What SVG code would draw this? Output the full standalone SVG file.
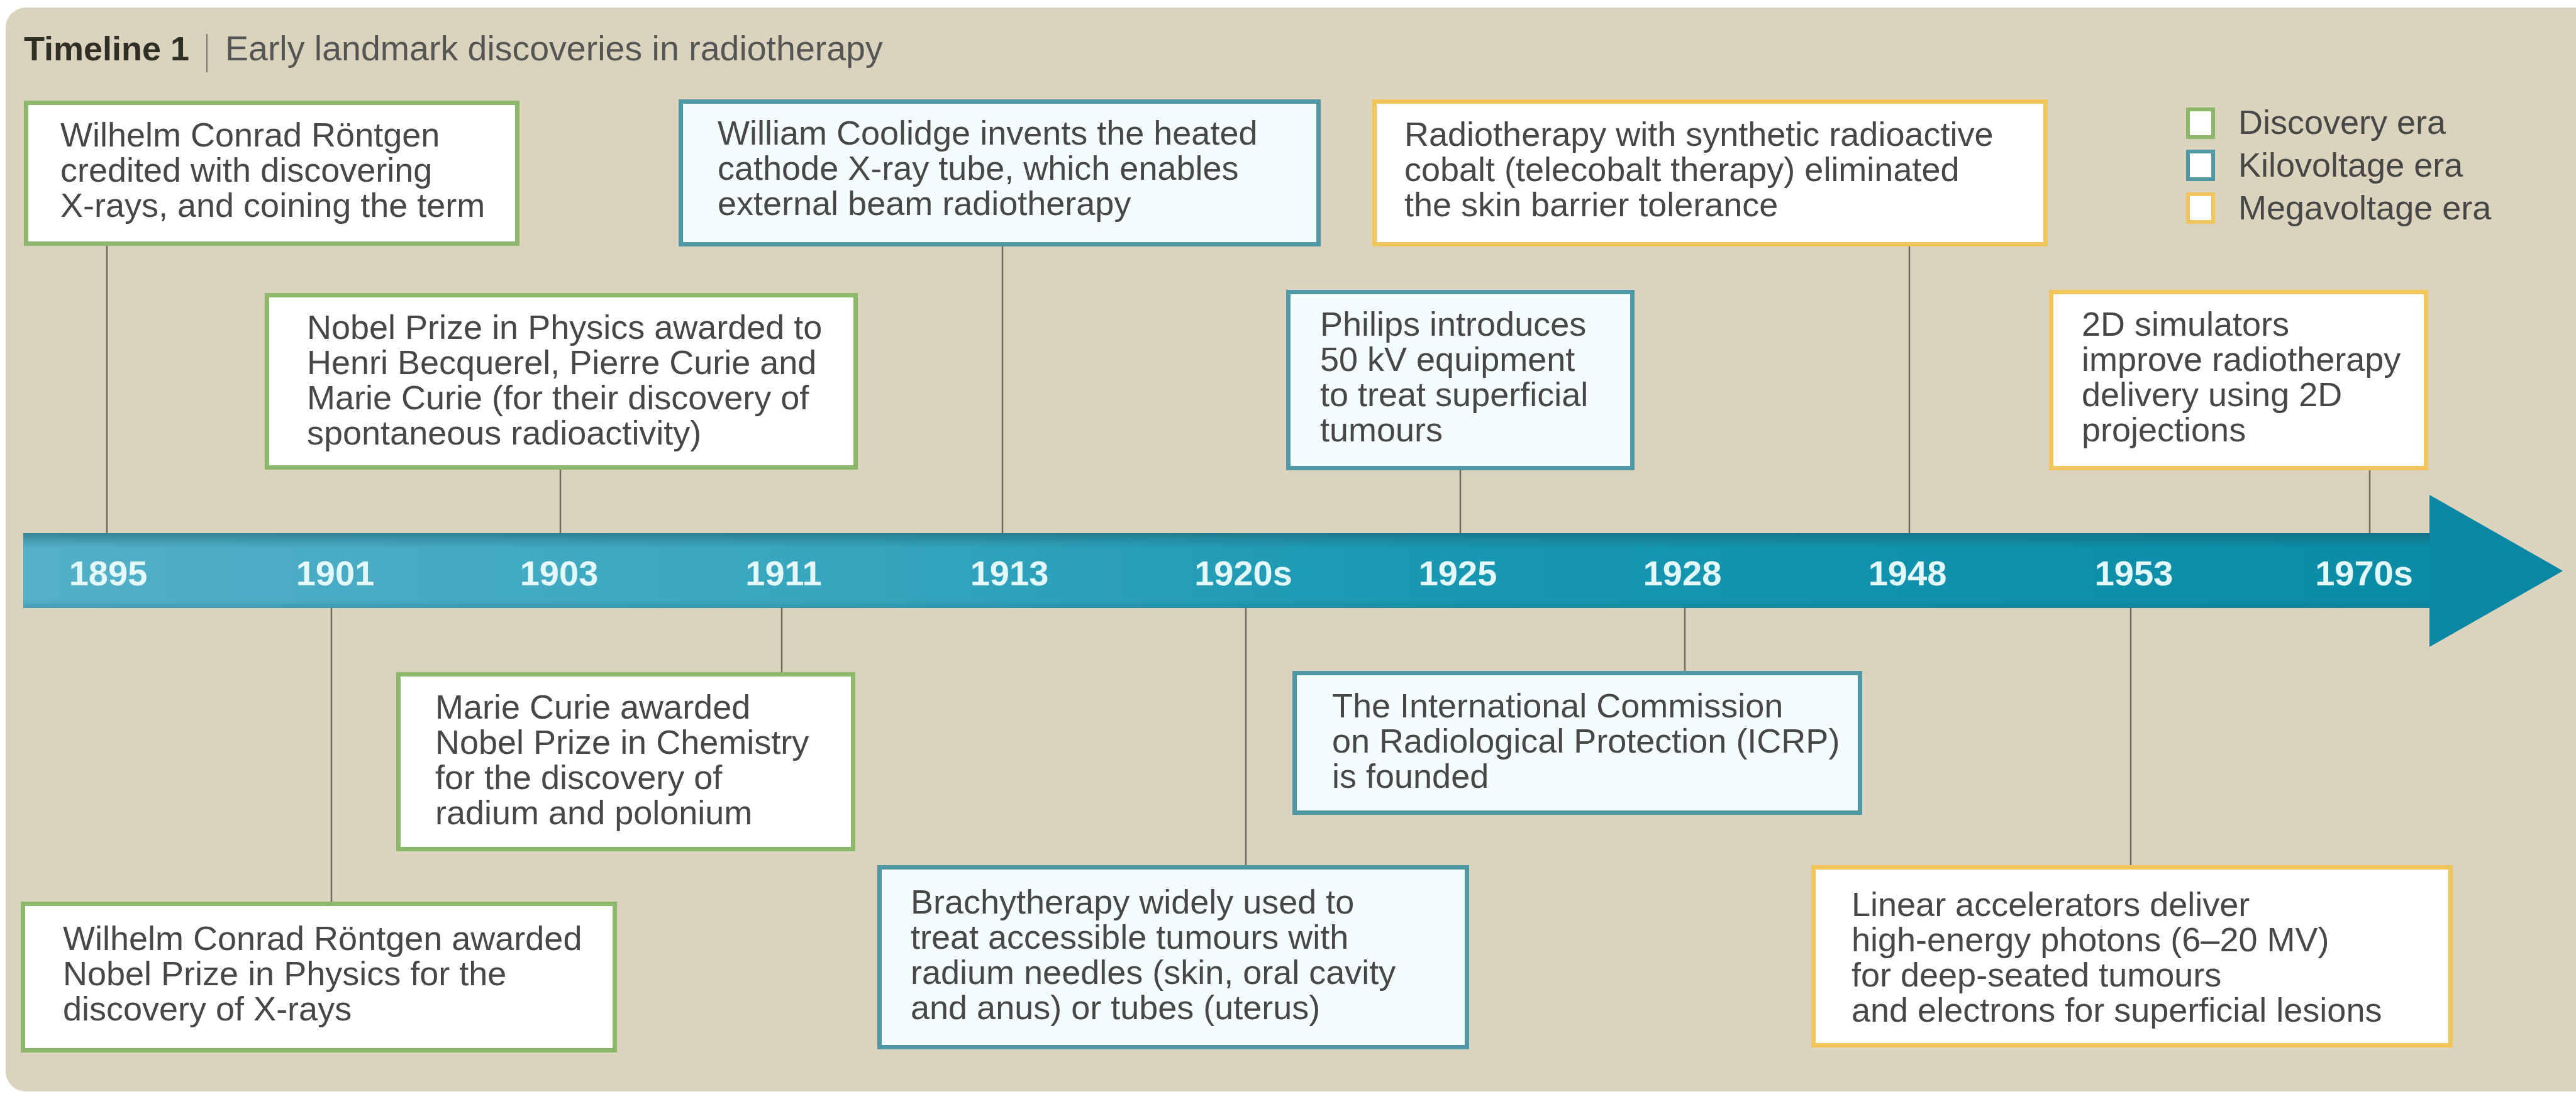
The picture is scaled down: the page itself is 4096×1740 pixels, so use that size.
<svg xmlns="http://www.w3.org/2000/svg" width="4096" height="1740" viewBox="0 0 4096 1740">
<defs>
<linearGradient id="band" x1="0" y1="0" x2="1" y2="0">
<stop offset="0" stop-color="#53B0C8"/>
<stop offset="0.35" stop-color="#36A5BE"/>
<stop offset="0.6" stop-color="#1797B1"/>
<stop offset="1" stop-color="#0A8BA6"/>
</linearGradient>
<linearGradient id="bandShade" x1="0" y1="0" x2="0" y2="1">
<stop offset="0" stop-color="#1E5F6C" stop-opacity="0.55"/>
<stop offset="0.1" stop-color="#1E5F6C" stop-opacity="0.25"/>
<stop offset="0.2" stop-color="#1E5F6C" stop-opacity="0"/>
<stop offset="0.9" stop-color="#1E5F6C" stop-opacity="0"/>
<stop offset="1" stop-color="#1E5F6C" stop-opacity="0.25"/>
</linearGradient>
<style>
.t { font-family: "Liberation Sans", Arial, sans-serif; font-size: 54px; fill: #474747; }
.g { fill: #FFFFFF; stroke: #8DB86B; stroke-width: 7; }
.b { fill: #F5FCFD; stroke: #4F98A4; stroke-width: 7; }
.y { fill: #FFFFFF; stroke: #EFC55C; stroke-width: 7; }
.c { stroke: #6F6B5F; stroke-width: 2.5; fill: none; }
.yr { font-family: "Liberation Sans", Arial, sans-serif; font-weight: bold; font-size: 56px; fill: #E2F8FB; text-anchor: middle; }
.lg { fill: #FFFFFF; stroke-width: 6; }
</style>
</defs>
<rect x="0" y="0" width="4096" height="1740" fill="#FFFFFF"/>
<rect id="background" x="9" y="12" width="4120" height="1724" rx="32" fill="#DCD3BE"/>

<g id="title">
<text x="38" y="96" font-family="Liberation Sans, Arial, sans-serif" font-weight="bold" font-size="54" fill="#2F2F28">Timeline 1</text>
<line x1="329" y1="54" x2="329" y2="115" stroke="#7A766A" stroke-width="2"/>
<text x="358" y="96" font-family="Liberation Sans, Arial, sans-serif" font-size="55.5" fill="#555">Early landmark discoveries in radiotherapy</text>
</g>

<g id="legend">
<rect class="lg" x="3479" y="174" width="40" height="44" stroke="#8DB86B"/>
<text class="t" x="3559" y="213">Discovery era</text>
<rect class="lg" x="3479" y="241" width="40" height="44" stroke="#4F98A4"/>
<text class="t" x="3559" y="281">Kilovoltage era</text>
<rect class="lg" x="3479" y="309" width="40" height="44" stroke="#EFC55C"/>
<text class="t" x="3559" y="349">Megavoltage era</text>
</g>

<g id="connectors">
<line class="c" x1="170" y1="391" x2="170" y2="852"/>
<line class="c" x1="891" y1="747" x2="891" y2="852"/>
<line class="c" x1="1594" y1="392" x2="1594" y2="852"/>
<line class="c" x1="2322" y1="748" x2="2322" y2="852"/>
<line class="c" x1="3036" y1="392" x2="3036" y2="852"/>
<line class="c" x1="3768" y1="748" x2="3768" y2="852"/>
<line class="c" x1="527" y1="964" x2="527" y2="1434"/>
<line class="c" x1="1243" y1="964" x2="1243" y2="1069"/>
<line class="c" x1="1981" y1="964" x2="1981" y2="1376"/>
<line class="c" x1="2679" y1="964" x2="2679" y2="1067"/>
<line class="c" x1="3388" y1="964" x2="3388" y2="1376"/>
</g>

<g id="timeline">
<rect x="37" y="848" width="3828" height="119" fill="url(#band)"/>
<rect x="37" y="848" width="3828" height="119" fill="url(#bandShade)"/>
<polygon points="3863,787 4075,908 3863,1029" fill="#0A88A3"/>
<text class="yr" x="172" y="931">1895</text>
<text class="yr" x="533" y="931">1901</text>
<text class="yr" x="889" y="931">1903</text>
<text class="yr" x="1246" y="931">1911</text>
<text class="yr" x="1605" y="931">1913</text>
<text class="yr" x="1977" y="931">1920s</text>
<text class="yr" x="2318" y="931">1925</text>
<text class="yr" x="2675" y="931">1928</text>
<text class="yr" x="3033" y="931">1948</text>
<text class="yr" x="3393" y="931">1953</text>
<text class="yr" x="3759" y="931">1970s</text>
</g>

<g id="n1895">
<rect class="g" x="41.5" y="163.5" width="781" height="224"/>
<text class="t" x="96" y="233">Wilhelm Conrad Röntgen</text>
<text class="t" x="96" y="289">credited with discovering</text>
<text class="t" x="96" y="345">X-rays, and coining the term</text>
</g>

<g id="n1903">
<rect class="g" x="424.5" y="469.5" width="936" height="274"/>
<text class="t" x="488" y="539">Nobel Prize in Physics awarded to</text>
<text class="t" x="488" y="595">Henri Becquerel, Pierre Curie and</text>
<text class="t" x="488" y="651">Marie Curie (for their discovery of</text>
<text class="t" x="488" y="707">spontaneous radioactivity)</text>
</g>

<g id="n1913">
<rect class="b" x="1082.5" y="161.5" width="1014" height="227"/>
<text class="t" x="1141" y="230">William Coolidge invents the heated</text>
<text class="t" x="1141" y="286">cathode X-ray tube, which enables</text>
<text class="t" x="1141" y="342">external beam radiotherapy</text>
</g>

<g id="n1948">
<rect class="y" x="2185.5" y="161.5" width="1067" height="227"/>
<text class="t" x="2233" y="232">Radiotherapy with synthetic radioactive</text>
<text class="t" x="2233" y="288">cobalt (telecobalt therapy) eliminated</text>
<text class="t" x="2233" y="344">the skin barrier tolerance</text>
</g>

<g id="n1925">
<rect class="b" x="2048.5" y="464.5" width="547" height="280"/>
<text class="t" x="2099" y="534">Philips introduces</text>
<text class="t" x="2099" y="590">50 kV equipment</text>
<text class="t" x="2099" y="646">to treat superficial</text>
<text class="t" x="2099" y="702">tumours</text>
</g>

<g id="n1970s">
<rect class="y" x="3261.5" y="464.5" width="596" height="280"/>
<text class="t" x="3310" y="534">2D simulators</text>
<text class="t" x="3310" y="590">improve radiotherapy</text>
<text class="t" x="3310" y="646">delivery using 2D</text>
<text class="t" x="3310" y="702">projections</text>
</g>

<g id="n1911">
<rect class="g" x="633.5" y="1072.5" width="723" height="278"/>
<text class="t" x="692" y="1143">Marie Curie awarded</text>
<text class="t" x="692" y="1199">Nobel Prize in Chemistry</text>
<text class="t" x="692" y="1255">for the discovery of</text>
<text class="t" x="692" y="1311">radium and polonium</text>
</g>

<g id="n1901">
<rect class="g" x="36.5" y="1437.5" width="941" height="233"/>
<text class="t" x="100" y="1511">Wilhelm Conrad Röntgen awarded</text>
<text class="t" x="100" y="1567">Nobel Prize in Physics for the</text>
<text class="t" x="100" y="1623">discovery of X-rays</text>
</g>

<g id="n1920s">
<rect class="b" x="1398.5" y="1379.5" width="934" height="286"/>
<text class="t" x="1448" y="1453">Brachytherapy widely used to</text>
<text class="t" x="1448" y="1509">treat accessible tumours with</text>
<text class="t" x="1448" y="1565">radium needles (skin, oral cavity</text>
<text class="t" x="1448" y="1621">and anus) or tubes (uterus)</text>
</g>

<g id="n1928">
<rect class="b" x="2058.5" y="1070.5" width="899" height="222"/>
<text class="t" x="2118" y="1141">The International Commission</text>
<text class="t" x="2118" y="1197">on Radiological Protection (ICRP)</text>
<text class="t" x="2118" y="1253">is founded</text>
</g>

<g id="n1953">
<rect class="y" x="2883.5" y="1379.5" width="1013" height="283"/>
<text class="t" x="2944" y="1457">Linear accelerators deliver</text>
<text class="t" x="2944" y="1513">high-energy photons (6–20 MV)</text>
<text class="t" x="2944" y="1569">for deep-seated tumours</text>
<text class="t" x="2944" y="1625">and electrons for superficial lesions</text>
</g>
</svg>
